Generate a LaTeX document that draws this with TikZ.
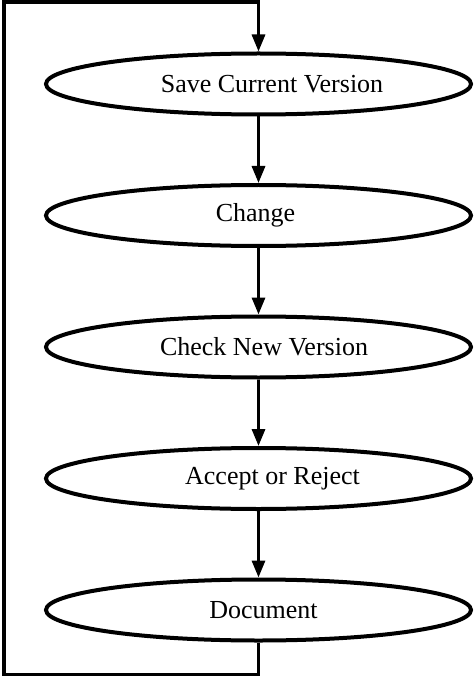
\documentclass[tikz,border=0pt]{standalone}
\usepackage{fontspec}
\setmainfont{Liberation Serif}
\usetikzlibrary{shapes, arrows.meta, positioning, calc}

\begin{document}
\begin{tikzpicture}[
    node distance=33.25pt,
    stage/.style={ellipse, draw, line width=2pt, minimum width=212.5pt, minimum height=30.5pt, inner sep=0pt, align=center, font=\fontsize{13}{15.5}\selectfont},
    flow/.style={-{Triangle[length=8.5pt, width=6.5pt]}, line width=1.6pt}
]
    \useasboundingbox (0,0) rectangle (237pt,-339.5pt);
    \node[stage] (save) at (129.25pt,-42pt) {\hspace*{13.5pt}Save Current Version};
    \node[stage] (change) [below=of save] {Change\hspace*{3pt}};
    \node[stage] (check) [below=of change] {\hspace*{5.5pt}Check New Version};
    \node[stage] (accept) [below=of check] {\hspace*{14pt}Accept or Reject};
    \node[stage] (doc) [below=of accept] {\hspace*{5pt}Document};
    \draw[flow] (save) -- (change);
    \draw[flow] (change) -- (check);
    \draw[flow] (check) -- (accept);
    \draw[flow] (accept) -- (doc);
    % loop back to the top
    \coordinate (loopbl) at (2pt,-337.25pt);
    \coordinate (looptl) at (2pt,-1pt);
    \draw[flow] (doc.south) |- (loopbl) -- (looptl) -| (save.north);
\end{tikzpicture}
\end{document}
